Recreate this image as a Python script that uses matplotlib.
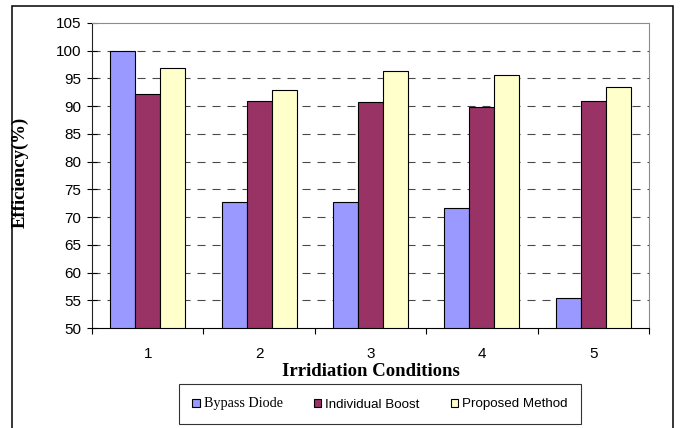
import numpy as np
import matplotlib
matplotlib.use("Agg")
import matplotlib.pyplot as plt
from matplotlib.patches import Rectangle


conditions = ["1", "2", "3", "4", "5"]
bypass_diode = [100.0, 72.8, 72.8, 71.7, 55.5]
individual_boost = [92.2, 90.9, 90.8, 89.9, 91.0]
proposed_method = [96.8, 93.0, 96.3, 95.6, 93.5]
series_names = ["Bypass Diode", "Individual Boost", "Proposed Method"]
y_ticks = [50, 55, 60, 65, 70, 75, 80, 85, 90, 95, 100, 105]

W, H = 682, 428


def px(x, y):
    # pixel position (from top-left) -> figure fraction
    return x / W, 1 - y / H


def main():
    plt.rcParams["font.family"] = ["Liberation Sans", "DejaVu Sans"]
    plt.rcParams["lines.scale_dashes"] = False

    fig = plt.figure(figsize=(W / 100, H / 100), dpi=100)
    left, top = px(92, 23)
    right, bottom = px(649, 328)
    ax = fig.add_axes([left, bottom, right - left, top - bottom])

    x = np.arange(1, len(conditions) + 1)
    width = 0.224
    colors = ["#9999FF", "#993366", "#FFFFCC"]
    data = [bypass_diode, individual_boost, proposed_method]
    for i, (vals, c, name) in enumerate(zip(data, colors, series_names)):
        ax.bar(x + (i - 1) * width, np.array(vals) - 50, width, bottom=50,
               color=c, edgecolor="black", linewidth=0.8, label=name, zorder=3)

    ax.set_xlim(0.5, len(conditions) + 0.5)
    ax.set_ylim(50, 105)

    ax.set_yticks(y_ticks)
    ax.tick_params(axis="y", direction="inout", length=6.5, width=0.8,
                   labelsize=11, pad=4.5)
    ax.set_xticks(x)
    ax.set_xticklabels(conditions)
    ax.tick_params(axis="x", which="major", length=0, labelsize=11, pad=13.5)
    ax.set_xticks(np.arange(0.5, len(conditions) + 1), minor=True)
    ax.tick_params(axis="x", which="minor", direction="out", length=4.3,
                   width=0.8)

    for y in y_ticks[1:-1]:
        ax.axhline(y, color="#4a4a4a", linewidth=0.8, dashes=(5.8, 5.0),
                   zorder=1)

    ax.spines["top"].set_color("#8c8c8c")
    ax.spines["right"].set_color("#8c8c8c")
    ax.spines["left"].set_color("#222222")
    ax.spines["bottom"].set_color("black")
    for s in ax.spines.values():
        s.set_linewidth(0.8)

    fig.text(*px(370.5, 371), "Irridiation Conditions", ha="center",
             va="center", fontsize=13.5, fontweight="bold",
             family="Liberation Serif")
    fig.text(*px(20, 172), "Efficiency(%)", ha="center", va="center",
             rotation=90, fontsize=13.5, fontweight="bold",
             family="Liberation Serif")

    lx0, ly0 = px(179, 426)
    lx1, ly1 = px(581, 382)
    leg = fig.legend(loc="center", ncol=3, mode="expand",
                     bbox_to_anchor=(lx0, ly0, lx1 - lx0, ly1 - ly0),
                     fontsize=9.6, frameon=True, fancybox=False,
                     handlelength=0.55, handleheight=0.55, handletextpad=0.3,
                     borderpad=1.0, borderaxespad=0, columnspacing=1.5)
    leg.get_frame().set_edgecolor("black")
    leg.get_frame().set_linewidth(0.8)
    leg.get_texts()[0].set_family("Liberation Serif")
    leg.get_texts()[0].set_fontsize(10.2)
    for h in leg.legend_handles:
        h.set_linewidth(0.8)

    fx0, fy0 = px(12, 6)
    fx1, _ = px(673, 0)
    fig.add_artist(Rectangle((fx0, -0.1), fx1 - fx0, fy0 + 0.1,
                             transform=fig.transFigure, fill=False,
                             edgecolor="black", linewidth=1.1))

    plt.savefig("out.png", dpi=100)
    plt.close()


if __name__ == "__main__":
    main()
